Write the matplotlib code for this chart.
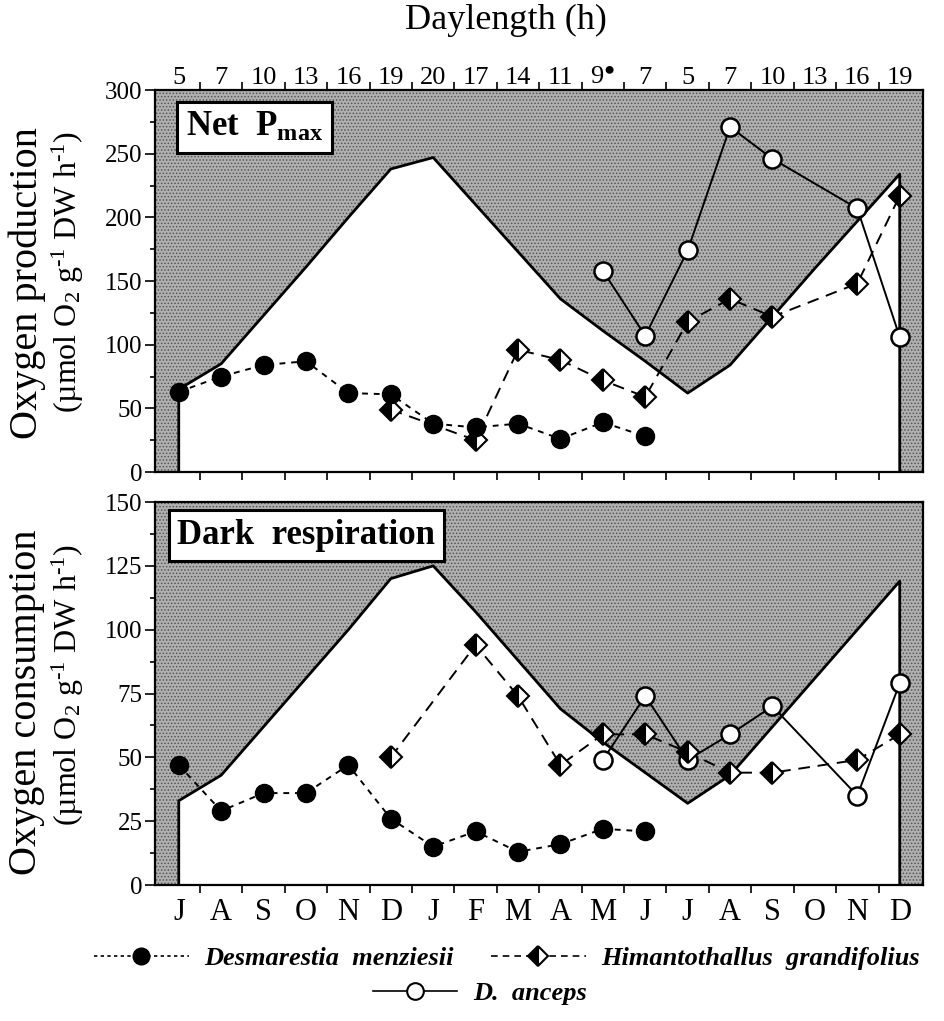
import numpy as np
import matplotlib.pyplot as plt
from matplotlib.ticker import MultipleLocator
from matplotlib.lines import Line2D

plt.rcParams['font.family'] = 'Liberation Serif'
plt.rcParams['mathtext.fontset'] = 'custom'
plt.rcParams['mathtext.rm'] = 'Liberation Serif'
plt.rcParams['mathtext.it'] = 'Liberation Serif:italic'
plt.rcParams['mathtext.bf'] = 'Liberation Serif:bold'
plt.rcParams['mathtext.fallback'] = 'stix'
plt.rcParams['hatch.linewidth'] = 0.7

months = ['J', 'A', 'S', 'O', 'N', 'D', 'J', 'F', 'M', 'A', 'M', 'J',
          'J', 'A', 'S', 'O', 'N', 'D']
daylen = ['5', '7', '10', '13', '16', '19', '20', '17', '14', '11', '9$^{\u25cf}$', '7',
          '5', '7', '10', '13', '16', '19']

# daylength curve (in units of each panel)
day_top = [65, 85, 123, 161, 200, 238, 247, 210, 173, 136, 111, 87, 62, 84, 122, 160, 197, 234]
day_bot = [33, 43, 62, 81, 100, 120, 125, 107, 88, 69, 56, 44, 32, 43, 62, 81, 100, 119]

# Desmarestia menziesii
x_dm = [0, 1, 2, 3, 4, 5, 6, 7, 8, 9, 10, 11]
pmax_dm = [63, 75, 84, 87, 62, 61, 38, 35, 38, 26, 39, 28]
resp_dm = [47, 29, 36, 36, 47, 26, 15, 21, 13, 16, 22, 21]

# Himantothallus grandifolius
x_hg = [5, 7, 8, 9, 10, 11, 12, 13, 14, 16, 17]
pmax_hg = [49, 25, 96, 88, 72, 59, 118, 136, 122, 148, 217]
resp_hg = [50, 94, 74, 47, 59, 59, 52, 44, 44, 49, 59]

# D. anceps
x_da = [10, 11, 12, 13, 14, 16, 17]
pmax_da = [158, 107, 174, 271, 246, 207, 106]
resp_da = [49, 74, 49, 59, 70, 35, 79]

fig = plt.figure(figsize=(9.44, 10.21), dpi=100)
ax0 = fig.add_axes([0.1642, 0.5377, 0.8136, 0.3741])
ax1 = fig.add_axes([0.1642, 0.1332, 0.8136, 0.3751])

xl = (-0.56, 17.55)
mx = np.arange(len(months))


def panel(ax, day, ymax, ymaj, ymin, ydm, yhg, yda, label, lx, ly):
    ax.set_xlim(xl)
    ax.set_ylim(0, ymax)
    # stippled background = darkness, white under the daylength curve
    ax.axvspan(xl[0], xl[1], facecolor='#b0b0b0', edgecolor='#555555',
               hatch='.....', lw=0, zorder=0)
    ax.fill_between(mx, 0, day, color='white', lw=0, zorder=1)
    ax.plot([0] + list(mx) + [17], [0] + day + [0], color='black', lw=2, zorder=2)

    ax.plot(x_da, yda, '-', color='black', lw=1.4, marker='o', ms=13,
            mfc='white', mec='black', mew=1.8, zorder=3)
    ax.plot(x_hg, yhg, color='black', lw=1.4, ls=(0, (6, 4)), marker='D', ms=11,
            fillstyle='left', mfc='black', mfcalt='white', mec='black', mew=1.5, zorder=4)
    ax.plot(x_dm, ydm, color='black', lw=1.4, ls=(0, (3, 3)), marker='o', ms=13,
            mfc='black', mec='black', zorder=5)

    ax.set_xticks(np.arange(0.5, 17, 1))
    ax.set_xticks(mx, minor=True)
    ax.yaxis.set_major_locator(MultipleLocator(ymaj))
    ax.yaxis.set_minor_locator(MultipleLocator(ymin))
    ax.tick_params(axis='y', which='major', direction='out', length=7, width=1.2, labelsize=18, pad=2)
    ax.tick_params(axis='y', which='minor', direction='out', length=3.5, width=1.2)
    ax.tick_params(axis='x', which='major', direction='out', length=6, width=1.2,
                   labelbottom=False, labeltop=False)
    ax.tick_params(axis='x', which='minor', length=0)
    for s in ax.spines.values():
        s.set_linewidth(1.6)
    ax.text(lx, ly, label, transform=ax.transAxes, ha='left', va='top',
            fontsize=25, fontweight='bold', zorder=10,
            bbox=dict(boxstyle='square,pad=0.25', fc='white', ec='black', lw=2.2))


panel(ax0, day_top, 300, 50, 25, pmax_dm, pmax_hg, pmax_da, r'Net  P$_{\mathbf{max}}$', 0.040, 0.945)
panel(ax1, day_bot, 150, 25, 12.5, resp_dm, resp_hg, resp_da, 'Dark  respiration', 0.029, 0.956)

ax0.tick_params(axis='x', which='major', top=True, bottom=True)
ax0.set_xticklabels(daylen, minor=True)
ax0.tick_params(axis='x', which='minor', top=True, bottom=False, labeltop=True,
                labelbottom=False, labelsize=19, pad=1)

ax1.tick_params(axis='x', which='major', top=False, bottom=True)
ax1.set_xticklabels(months, minor=True)
ax1.tick_params(axis='x', which='minor', labelsize=22, pad=9)

fig.text(0.536, 1 - 20 / 1021, 'Daylength (h)', ha='center', va='center', fontsize=26)

unit = r'(µmol O$_2$ g$^{\text{-}1}$ DW h$^{\text{-}1}$)'
fig.text(27 / 944, 1 - 283 / 1021, 'Oxygen production', rotation=90, ha='center', va='center', fontsize=29)
fig.text(68 / 944, 1 - 272 / 1021, unit, rotation=90, ha='center', va='center', fontsize=23)
fig.text(27 / 944, 1 - 702 / 1021, 'Oxygen consumption', rotation=90, ha='center', va='center', fontsize=29)
fig.text(68 / 944, 1 - 685 / 1021, unit, rotation=90, ha='center', va='center', fontsize=23)

h_dm = Line2D([], [], color='black', lw=1.2, ls=(0, (2, 2)), marker='o', ms=12, mfc='black')
h_hg = Line2D([], [], color='black', lw=1.2, ls=(0, (4, 3)), marker='D', ms=10,
              fillstyle='left', mfc='black', mfcalt='white', mec='black', mew=1.5)
h_da = Line2D([], [], color='black', lw=1.2, marker='o', ms=12, mfc='white', mec='black', mew=1.5)
lprop = dict(family='Liberation Serif', style='italic', weight='bold', size=19)
fig.legend([h_dm, h_hg], ['Desmarestia  menziesii', 'Himantothallus  grandifolius'],
           loc='center', bbox_to_anchor=(0.537, 1 - 958 / 1021), ncol=2, frameon=False,
           prop=lprop, handlelength=3.6, columnspacing=1.4, handletextpad=0.6)
fig.legend([h_da], ['D.  anceps'], loc='center', bbox_to_anchor=(0.508, 1 - 993 / 1021),
           frameon=False, prop=lprop, handlelength=3.2, handletextpad=0.6)

fig.savefig('out.png', dpi=100)
